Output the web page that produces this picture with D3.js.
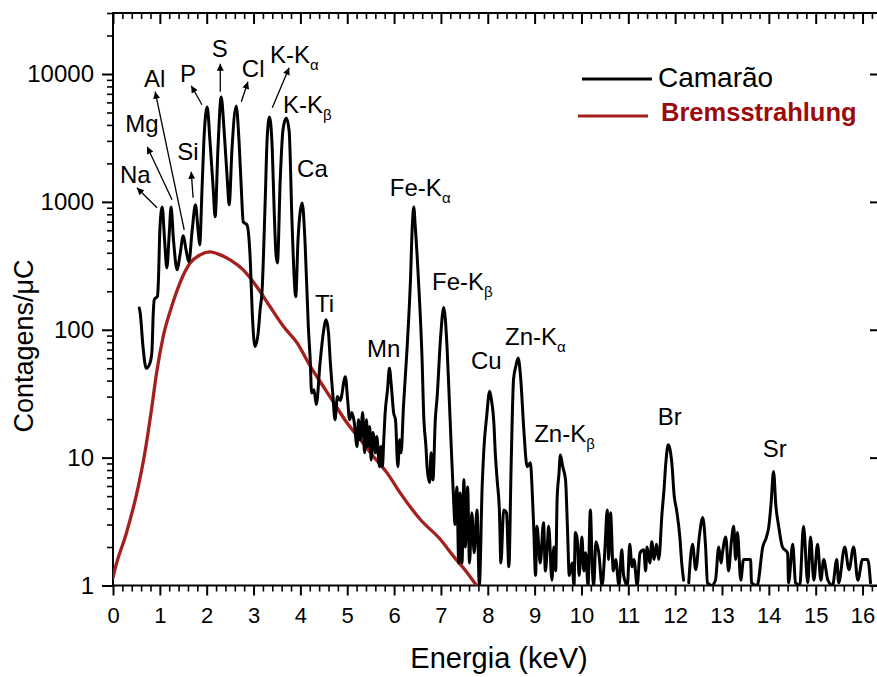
<!DOCTYPE html>
<html>
<head>
<meta charset="utf-8">
<script src="https://cdn.jsdelivr.net/npm/d3@7"></script>
<style>
  body { margin: 0; background: #fff; }
  svg { display: block; }
  text { font-family: "Liberation Sans", Arial, Helvetica, sans-serif; fill: #000; }
</style>
</head>
<body>
<svg id="chart" width="877" height="677"></svg>
<script>
// Measured XRF spectrum of the shrimp sample: [energy keV, counts/µC]
// (0 = no counts in that channel, drawn as a gap)
const camarao = [
  [0.56,148],[0.58,136],[0.64,74],[0.71,50],[0.79,55],[0.83,67],[0.86,136],[0.88,172],[0.95,183],[0.97,246],
  [1.00,600],[1.05,914],[1.10,510],[1.15,305],[1.20,560],[1.24,914],[1.29,510],[1.37,294],[1.43,385],[1.50,543],
  [1.56,420],[1.62,340],[1.69,600],[1.76,948],[1.82,580],[1.85,461],[1.90,1250],[1.94,3000],[2.01,5520],[2.07,3000],
  [2.14,1250],[2.18,764],[2.24,2600],[2.31,6610],[2.37,3700],[2.44,1480],[2.48,948],[2.54,2600],[2.63,5620],[2.69,3000],
  [2.74,1250],[2.78,698],[2.86,661],[2.93,352],[2.97,143],[3.03,74],[3.10,95],[3.14,143],[3.18,195],[3.25,1050],
  [3.29,3100],[3.34,4615],[3.40,2550],[3.44,870],[3.48,385],[3.51,333],[3.57,1500],[3.63,3700],[3.70,4530],[3.76,3600],
  [3.82,720],[3.87,246],[3.90,181],[3.95,510],[4.00,860],[4.04,982],[4.10,478],[4.17,105],[4.21,58],[4.24,32],
  [4.29,34],[4.34,26],[4.42,55],[4.49,95],[4.55,120],[4.60,95],[4.64,55],[4.69,32],[4.74,19.8],[4.79,30],
  [4.85,28],[4.96,43],[5.01,28],[5.05,19.8],[5.10,22.5],[5.15,18.8],[5.21,12.2],[5.24,19.8],[5.28,13.8],[5.33,22.5],
  [5.37,10.9],[5.41,19.8],[5.44,12.2],[5.48,17.5],[5.51,9.6],[5.55,15.7],[5.60,10.9],[5.63,14.6],[5.69,8.5],[5.72,12.2],
  [5.75,8.5],[5.78,13.8],[5.81,22.5],[5.86,34],[5.90,50],[5.94,37],[5.99,22.5],[6.03,19.8],[6.08,8.5],[6.12,13.8],
  [6.15,10.9],[6.20,25],[6.28,74],[6.35,246],[6.39,660],[6.42,914],[6.45,660],[6.52,246],[6.60,55],[6.63,22.5],
  [6.68,12.2],[6.71,8],[6.76,6.4],[6.79,10.9],[6.83,6.7],[6.88,19.8],[6.92,30],[6.99,84],[7.06,149],[7.13,74],
  [7.17,34],[7.22,12.2],[7.27,4.7],[7.30,3.0],[7.34,5.9],[7.38,1.5],[7.41,5.3],[7.45,1.5],[7.49,6.7],[7.52,2.0],
  [7.57,5.9],[7.61,1.5],[7.66,3.7],[7.71,1.8],[7.77,3.9],[7.82,1.0],[7.88,5.9],[7.93,13.8],[7.97,19.8],[8.04,33],
  [8.08,28],[8.13,18.8],[8.16,10.9],[8.20,6.7],[8.25,3.7],[8.28,1.5],[8.34,3.9],[8.40,3.7],[8.45,1.4],[8.50,9.1],
  [8.55,41],[8.60,52],[8.65,60],[8.70,43],[8.77,16.5],[8.84,8.5],[8.91,9.1],[8.95,5.3],[8.98,2.9],[9.02,1.2],
  [9.05,2.9],[9.12,1.5],[9.19,3.1],[9.23,1.3],[9.27,2.0],[9.30,2.9],[9.37,1.1],[9.41,2.0],[9.45,1.3],[9.48,4.7],
  [9.52,7.5],[9.55,10.5],[9.60,8.5],[9.66,6.7],[9.70,2.9],[9.74,1.2],[9.80,1.5],[9.84,1.0],[9.87,2.6],[9.91,2.3],
  [9.95,1.2],[10.01,2.4],[10.05,1.3],[10.09,1.8],[10.14,1.0],[10.19,3.9],[10.23,1.4],[10.26,1.0],[10.31,2.2],[10.37,1.8],
  [10.44,1.0],[10.50,1.9],[10.55,3.9],[10.58,1.6],[10.62,3.7],[10.68,1.3],[10.73,1.6],[10.80,1.0],[10.86,1.9],[10.90,1.2],
  [10.98,1.0],[11.03,2.1],[11.08,1.4],[11.12,1.6],[11.19,1.0],[11.25,1.8],[11.33,1.9],[11.37,1.3],[11.40,2.0],[11.46,1.5],
  [11.50,2.2],[11.55,1.6],[11.60,2.1],[11.65,1.6],[11.72,3.7],[11.76,5.5],[11.80,9.0],[11.85,12.6],[11.88,12.0],[11.93,9.0],
  [11.98,5.0],[12.03,3.9],[12.10,2.4],[12.14,1.5],[12.18,1.1],[12.22,0],[12.26,0],[12.29,1.05],[12.37,2.1],[12.44,1.33],
  [12.52,2.5],[12.59,3.4],[12.65,2.0],[12.69,1.05],[12.78,1.0],[12.86,1.1],[12.93,2.0],[12.98,1.5],[13.01,1.8],[13.08,2.4],
  [13.14,1.3],[13.20,2.2],[13.25,2.9],[13.29,1.6],[13.33,2.6],[13.40,1.1],[13.46,1.6],[13.55,1.6],[13.61,1.6],[13.63,1.05],
  [13.75,1.0],[13.87,2.0],[13.95,2.4],[14.00,2.9],[14.05,4.5],[14.10,7.8],[14.15,4.2],[14.21,2.9],[14.29,2.0],[14.40,1.8],
  [14.42,1.05],[14.51,2.1],[14.57,1.05],[14.66,1.0],[14.74,2.9],[14.83,1.05],[14.89,2.4],[14.96,1.1],[15.04,2.1],[15.11,1.1],
  [15.17,1.6],[15.26,1.1],[15.36,1.0],[15.45,1.6],[15.49,1.05],[15.62,2.0],[15.71,1.33],[15.81,2.0],[15.90,1.1],[16.00,1.6],
  [16.11,1.6],[16.17,1.05]
];

// Simulated bremsstrahlung background: [energy keV, counts/µC]
const bremsstrahlung = [
  [0,1.15],[0.04,1.33],[0.29,2.6],[0.51,5.3],[0.68,10.9],[0.83,25],[0.93,46],[1.07,88],[1.25,151],[1.43,233],
  [1.65,334],[1.86,385],[2.07,406],[2.29,385],[2.50,352],[2.78,294],[3.07,217],[3.35,152],[3.64,106],[3.93,79],
  [4.21,52],[4.49,36],[4.71,27],[4.99,18.8],[5.28,13.8],[5.56,10.2],[5.85,7.6],[6.13,5.3],[6.56,3.28],[6.99,2.29],
  [7.27,1.69],[7.56,1.26],[7.76,1.0]
];

// Element labels: text, subscript, anchor position (energy, counts)
const peakText = ["Na","Mg","Al","P","Si","S","Cl","K-K","K-K","Ca","Fe-K","Fe-K","Ti","Mn","Cu","Zn-K","Zn-K","Br","Sr"];
const peakSub  = ["","","","","","","","α","β","","α","β","","","","α","β","",""];
const peakE    = [0.15,0.26,0.66,1.43,1.37,2.11,2.75,3.35,3.63,3.93,5.91,6.81,4.31,5.42,7.64,8.37,8.99,11.63,13.87];
const peakC    = [1410,3535,7960,8710,2135,13650,9520,12250,4980,1570,1117,205,138,61,49,76,13.3,18,10.1];

// Pointer arrows for the crowded low-energy lines: from (energy, counts) to (energy, counts)
const arrowFrom = [[0.94,899],[1.26,1038],[1.52,605],[1.71,1076],[1.90,5750],[2.29,7280],[2.74,6070],[3.40,5450]];
const arrowTo   = [[0.51,1290],[0.73,2700],[0.90,7280],[1.67,1718],[1.67,8100],[2.29,12030],[2.88,8710],[3.76,11200]];

const xMajor = d3.range(0, 17);
const xMinor = d3.range(0, 82).map(i => i * 0.2).filter(v => Math.abs(v - Math.round(v)) > 1e-6 && v < 16.33);
const yMajor = [1, 10, 100, 1000, 10000];
const yMinor = [];
yMajor.forEach(d => { for (let k = 2; k <= 9; k++) if (d * k <= 30000) yMinor.push(d * k); });

const seriesNames = ["Camarão", "Bremsstrahlung"];

const svg = d3.select("#chart");
const plotLeft = 113, plotRight = 878, plotTop = 13, plotBottom = 585.5;
const x = d3.scaleLinear().domain([0, 16.33]).range([plotLeft, plotRight]);
const y = d3.scaleLog().domain([1, 30000]).range([plotBottom, plotTop]);

const defs = svg.append("defs");
defs.append("clipPath").attr("id", "plotArea")
  .append("rect").attr("x", plotLeft).attr("y", plotTop)
  .attr("width", plotRight - plotLeft).attr("height", plotBottom - plotTop);
defs.append("marker").attr("id", "arrowHead")
  .attr("viewBox", "0 0 10 10").attr("refX", 10).attr("refY", 5)
  .attr("markerWidth", 10).attr("markerHeight", 7).attr("markerUnits", "userSpaceOnUse")
  .attr("orient", "auto")
  .append("path").attr("d", "M0,0L10,5L0,10Z").attr("fill", "#000");

// axes
function styleAxis(g, w) {
  g.select(".domain").remove();
  g.selectAll(".tick line").attr("stroke", "#000").attr("stroke-width", w);
}
svg.append("g").attr("transform", `translate(0,${plotBottom})`)
  .call(d3.axisBottom(x).tickValues(xMinor).tickSize(6).tickFormat(""))
  .call(g => styleAxis(g, 1.6));
svg.append("g").attr("transform", `translate(0,${plotBottom})`)
  .call(d3.axisBottom(x).tickValues(xMajor).tickSize(10).tickPadding(12).tickFormat(d3.format("d")))
  .call(g => styleAxis(g, 2))
  .call(g => g.selectAll("text").attr("font-size", 22).attr("fill", "#000"));
svg.append("g").attr("transform", `translate(0,${plotTop})`)
  .call(d3.axisTop(x).tickValues(xMinor).tickSize(-6).tickFormat(""))
  .call(g => styleAxis(g, 1.6));
svg.append("g").attr("transform", `translate(0,${plotTop})`)
  .call(d3.axisTop(x).tickValues(xMajor).tickSize(-11).tickFormat(""))
  .call(g => styleAxis(g, 2));
svg.append("g").attr("transform", `translate(${plotLeft},0)`)
  .call(d3.axisLeft(y).tickValues(yMinor).tickSize(6).tickFormat(""))
  .call(g => styleAxis(g, 1.6));
svg.append("g").attr("transform", `translate(${plotLeft},0)`)
  .call(d3.axisLeft(y).tickValues(yMajor).tickSize(11).tickPadding(8).tickFormat(d3.format("d")))
  .call(g => styleAxis(g, 2))
  .call(g => g.selectAll("text").attr("font-size", 24).attr("fill", "#000"));
svg.append("g").attr("transform", `translate(${plotRight},0)`)
  .call(d3.axisRight(y).tickValues(yMajor).tickSize(-8).tickFormat(""))
  .call(g => styleAxis(g, 2));

svg.append("rect").attr("x", plotLeft).attr("y", plotTop)
  .attr("width", plotRight - plotLeft).attr("height", plotBottom - plotTop)
  .attr("fill", "none").attr("stroke", "#000").attr("stroke-width", 2);

// axis titles
svg.append("text").attr("x", 499).attr("y", 668).attr("text-anchor", "middle")
  .attr("font-size", 29).text("Energia (keV)");
svg.append("text").attr("transform", "translate(33,346) rotate(-90)").attr("text-anchor", "middle")
  .attr("font-size", 27).text("Contagens/μC");

// data lines
const plot = svg.append("g").attr("clip-path", "url(#plotArea)");
const line = d3.line()
  .defined(d => d[1] > 0)
  .x(d => x(d[0]))
  .y(d => y(d[1]))
  .curve(d3.curveMonotoneX);

plot.append("path").datum(bremsstrahlung).attr("d", line)
  .attr("fill", "none").attr("stroke", "#a3201e").attr("stroke-width", 3.3)
  .attr("stroke-linejoin", "round").attr("stroke-linecap", "round");
plot.append("path").datum(camarao).attr("d", line)
  .attr("fill", "none").attr("stroke", "#000").attr("stroke-width", 3)
  .attr("stroke-linejoin", "round").attr("stroke-linecap", "round");

// arrows
svg.append("g").selectAll("line").data(arrowFrom).join("line")
  .attr("x1", d => x(d[0])).attr("y1", d => y(d[1]))
  .attr("x2", (d, i) => x(arrowTo[i][0])).attr("y2", (d, i) => y(arrowTo[i][1]))
  .attr("stroke", "#000").attr("stroke-width", 1.3)
  .attr("marker-end", "url(#arrowHead)");

// element labels
const labels = svg.append("g").attr("font-size", 24);
peakText.forEach((t, i) => {
  const txt = labels.append("text").attr("x", x(peakE[i])).attr("y", y(peakC[i])).text(t);
  if (peakSub[i]) txt.append("tspan").attr("dy", 7).attr("font-size", 15).text(peakSub[i]);
});

// legend
const legend = svg.append("g");
legend.append("line").attr("x1", 582).attr("x2", 652).attr("y1", 79).attr("y2", 79)
  .attr("stroke", "#000").attr("stroke-width", 2.8);
legend.append("text").attr("x", 658).attr("y", 87).attr("font-size", 28).text(seriesNames[0]);
legend.append("line").attr("x1", 578).attr("x2", 648).attr("y1", 116).attr("y2", 116)
  .attr("stroke", "#a3201e").attr("stroke-width", 3);
legend.append("text").attr("x", 661).attr("y", 121).attr("font-size", 25.5).attr("font-weight", "bold")
  .style("fill", "#9c0a0a").text(seriesNames[1]);
</script>
</body>
</html>
